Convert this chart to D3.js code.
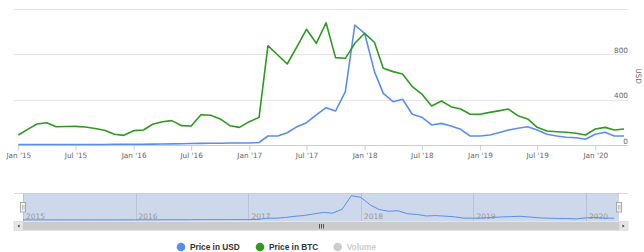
<!DOCTYPE html>
<html>
<head>
<meta charset="utf-8">
<script src="https://cdn.jsdelivr.net/npm/d3@7/dist/d3.min.js"></script>
<style>
  html, body { margin: 0; padding: 0; background: #fff; }
  svg { display: block; }
</style>
</head>
<body>
<svg id="chart" width="644" height="252"></svg>
<script>
// ---------- data ----------
const months = [
  "2015-01","2015-02","2015-03","2015-04","2015-05","2015-06","2015-07","2015-08","2015-09","2015-10","2015-11","2015-12",
  "2016-01","2016-02","2016-03","2016-04","2016-05","2016-06","2016-07","2016-08","2016-09","2016-10","2016-11","2016-12",
  "2017-01","2017-02","2017-03","2017-04","2017-05","2017-06","2017-07","2017-08","2017-09","2017-10","2017-11","2017-12",
  "2018-01","2018-02","2018-03","2018-04","2018-05","2018-06","2018-07","2018-08","2018-09","2018-10","2018-11","2018-12",
  "2019-01","2019-02","2019-03","2019-04","2019-05","2019-06","2019-07","2019-08","2019-09","2019-10","2019-11","2019-12",
  "2020-01","2020-02","2020-03","2020-04"
];
const priceUSD = [
  5,5,5,5,5,5,5,5,5,5,6,6,
  7,7,8,9,10,11,13,14,15,16,17,18,
  18,22,79,79,108,161,196,264,328,299,469,1055,
  982,645,454,381,402,270,244,176,190,167,138,79,
  79,88,108,132,147,161,132,94,79,68,64,50,
  94,112,79,79
];
const priceBTC = [
  88,140,185,196,160,162,164,158,145,130,94,85,
  126,132,182,205,214,170,167,266,261,229,170,155,
  205,243,873,791,712,865,1017,894,1075,768,762,894,
  982,903,674,645,624,513,448,343,387,337,316,270,
  270,287,300,316,258,229,155,123,117,112,103,88,
  141,155,132,141
];
const yTicks = [0, 400, 800, 1200];
const xTickDates = ["2015-01","2015-07","2016-01","2016-07","2017-01","2017-07","2018-01","2018-07","2019-01","2019-07","2020-01"];
const navYears = ["2015","2016","2017","2018","2019","2020"];
const legendItems = [
  { name: "Price in USD", color: "#5b8def", visible: true },
  { name: "Price in BTC", color: "#2f9a21", visible: true },
  { name: "Volume", color: "#cccccc", visible: false }
];
const yAxisTitle = "USD";

// ---------- setup ----------
const parseM = d3.timeParse("%Y-%m");
const parseY = d3.timeParse("%Y");
const dates = months.map(parseM);
const svg = d3.select("#chart");
const FONT = "'DejaVu Sans', Verdana, sans-serif";

const plotL = 14, plotR = 628, plotT = 8.5, plotB = 145;
const x = d3.scaleTime()
  .domain([parseM("2015-01"), parseM("2020-01")])
  .range([18.3, 595.3]);
const y = d3.scaleLinear().domain([0, 1200]).range([plotB, plotT]);

// gridlines
svg.append("g").selectAll("line").data(yTicks.slice(1)).join("line")
  .attr("x1", plotL).attr("x2", plotR)
  .attr("y1", d => Math.round(y(d)) + 0.5).attr("y2", d => Math.round(y(d)) + 0.5)
  .attr("stroke", "#e6e6e6").attr("stroke-width", 1);

// x axis
const xAxis = d3.axisBottom(x)
  .tickValues(xTickDates.map(parseM))
  .tickSize(5)
  .tickFormat(d => d3.timeFormat("%b '%y")(d));
const gx = svg.append("g").attr("transform", `translate(0,${plotB + 0.5})`).call(xAxis);
gx.select(".domain").attr("d", `M18,0H${plotR}`).attr("stroke", "#c0d0e0");
gx.selectAll(".tick line").attr("stroke", "#c0d0e0");
gx.selectAll(".tick text").attr("font-family", FONT).attr("font-size", "7.3px")
  .attr("fill", "#666").attr("dy", null).attr("y", 12.5);

// y axis labels (inside, right aligned above gridlines)
const yAxis = d3.axisRight(y).tickValues(yTicks.slice(0, 3)).tickSize(0).tickFormat(d3.format("d"));
const gy = svg.append("g").attr("transform", `translate(${plotR},0)`).call(yAxis);
gy.select(".domain").remove();
gy.selectAll(".tick text").attr("font-family", FONT).attr("font-size", "7.3px")
  .attr("fill", "#666").attr("text-anchor", "end").attr("x", 0).attr("dy", "-2px").attr("y", 0);

// y axis title
svg.append("text")
  .attr("transform", `translate(636,76) rotate(90)`)
  .attr("text-anchor", "middle")
  .attr("font-family", FONT).attr("font-size", "7.3px").attr("fill", "#666")
  .text(yAxisTitle);

// series
const line = d3.line().x((d, i) => x(dates[i])).y(d => y(d));
svg.append("path").datum(priceUSD).attr("d", line)
  .attr("fill", "none").attr("stroke", legendItems[0].color).attr("stroke-width", 1.6)
  .attr("stroke-linejoin", "round");
svg.append("path").datum(priceBTC).attr("d", line)
  .attr("fill", "none").attr("stroke", legendItems[1].color).attr("stroke-width", 1.6)
  .attr("stroke-linejoin", "round");

// ---------- navigator ----------
const navT = 193.5, navB = 221, navL = 23, navR = 619;
const xn = d3.scaleTime()
  .domain([parseM("2015-01"), parseM("2020-01")])
  .range([23, 586]);
const yn = d3.scaleLinear().domain([0, 1150]).range([navB - 1, navT]);

svg.append("line").attr("x1", plotL).attr("x2", plotR).attr("y1", navT).attr("y2", navT)
  .attr("stroke", "#dcdcdc").attr("stroke-width", 1);
svg.append("rect").attr("x", navL).attr("y", navT).attr("width", navR - navL).attr("height", navB - navT)
  .attr("fill", "rgba(102,133,194,0.32)");
svg.append("g").selectAll("line").data(navYears.map(parseY)).join("line")
  .attr("x1", d => Math.round(xn(d)) + 0.5).attr("x2", d => Math.round(xn(d)) + 0.5)
  .attr("y1", navT).attr("y2", navB)
  .attr("stroke", "#b9c3d9").attr("stroke-width", 1);
svg.append("g").selectAll("text").data(navYears).join("text")
  .attr("x", d => xn(parseY(d)) + 3).attr("y", 218.5)
  .attr("font-family", FONT).attr("font-size", "7.5px").attr("fill", "#999")
  .text(d => d);
const navLine = d3.line().x((d, i) => xn(dates[i])).y(d => yn(d));
svg.append("path").datum(priceUSD).attr("d", navLine)
  .attr("fill", "none").attr("stroke", "#5b8def").attr("stroke-width", 1);

// handles
[navL, navR].forEach(hx => {
  const g = svg.append("g").attr("transform", `translate(${Math.round(hx)},202)`);
  g.append("rect").attr("x", -2.5).attr("y", 0.5).attr("width", 5).attr("height", 9.5)
    .attr("fill", "#f2f2f2").attr("stroke", "#999").attr("stroke-width", 0.8);
  g.append("line").attr("x1", -0.5).attr("x2", -0.5).attr("y1", 3).attr("y2", 7.5).attr("stroke", "#aaa").attr("stroke-width", 0.7);
  g.append("line").attr("x1", 1).attr("x2", 1).attr("y1", 3).attr("y2", 7.5).attr("stroke", "#aaa").attr("stroke-width", 0.7);
});

// scrollbar
const sbT = 221.5, sbH = 9;
svg.append("rect").attr("x", navL).attr("y", sbT).attr("width", navR - navL).attr("height", sbH)
  .attr("fill", "#cbcbcb");
[[14, -1], [619, 1]].forEach(([bx, dir]) => {
  svg.append("rect").attr("x", bx).attr("y", sbT).attr("width", 9).attr("height", sbH)
    .attr("fill", "#e6e6e6").attr("stroke", "#d0d0d0").attr("stroke-width", 0.5);
  const cx = bx + 4.5, cy = sbT + sbH / 2;
  svg.append("path")
    .attr("d", dir < 0 ? `M${cx + 1},${cy - 1.5}L${cx - 1},${cy}L${cx + 1},${cy + 1.5}Z`
                       : `M${cx - 1},${cy - 1.5}L${cx + 1},${cy}L${cx - 1},${cy + 1.5}Z`)
    .attr("fill", "#333");
});
[-2, 0, 2].forEach(o => {
  svg.append("line").attr("x1", 321.5 + o).attr("x2", 321.5 + o).attr("y1", 224).attr("y2", 228.5)
    .attr("stroke", "#333").attr("stroke-width", 0.8);
});

// ---------- legend ----------
const legendX = [181, 260, 337.7];
const lg = svg.append("g");
legendItems.forEach((it, i) => {
  lg.append("circle").attr("cx", legendX[i]).attr("cy", 247).attr("r", 4.3)
    .attr("fill", it.visible ? it.color : "#cccccc");
  lg.append("text").attr("x", legendX[i] + 9).attr("y", 250.3)
    .attr("font-family", "'Liberation Sans', Arial, sans-serif").attr("font-weight", "bold")
    .attr("font-size", "8.3px").attr("fill", it.visible ? "#333" : "#cccccc")
    .text(it.name);
});
</script>
</body>
</html>
